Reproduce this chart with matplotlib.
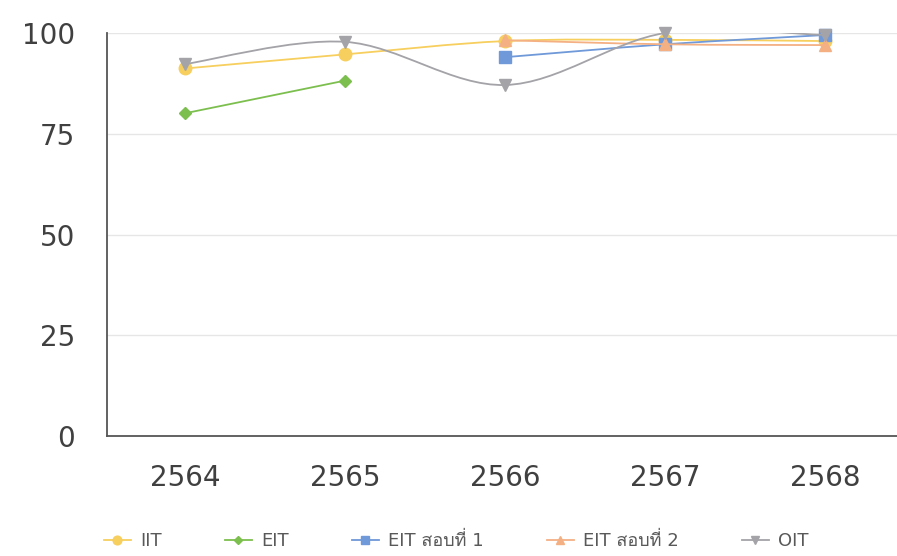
import numpy as np
import matplotlib
matplotlib.use('Agg')
import matplotlib.pyplot as plt
from matplotlib import font_manager
from matplotlib.ft2font import FT2Font
from matplotlib.path import Path
from matplotlib.patches import PathPatch
from matplotlib.lines import Line2D

# categories (Thai Buddhist years)
years = ['2564', '2565', '2566', '2567', '2568']

# series values, None = no data for that year
iit = [91.2, 94.7, 98.0, 98.3, 98.0]
eit = [80.1, 88.2, None, None, None]
eit_r1 = [None, None, 94.0, 97.2, 99.5]
eit_r2 = [None, None, 98.2, 97.2, 97.0]
oit = [92.3, 97.8, 87.1, 100.0, 99.5]

labels = ['IIT', 'EIT', 'EIT สอบที่ 1', 'EIT สอบที่ 2', 'OIT']
colors = ['#F7CF5E', '#7CBF4E', '#6F99D8', '#F4B083', '#A3A3A8']
markers = ['o', 'D', 's', '^', 'v']
msizes = [9, 6.5, 8, 8, 8]


def find_thai_family():
    # look for any installed font that has Thai glyphs
    for fe in font_manager.fontManager.ttflist:
        try:
            cmap = FT2Font(fe.fname).get_charmap()
        except Exception:
            continue
        if all(ord(c) in cmap for c in 'สอบที่'):
            return fe.name
    return None


thai = find_thai_family()
families = ['DejaVu Sans'] + ([thai] if thai else [])
plt.rcParams['font.family'] = families


def smooth_path(xs, ys):
    # bezier like a spreadsheet "smoothed line"
    pts = np.column_stack([xs, ys])
    verts = [pts[0]]
    codes = [Path.MOVETO]
    n = len(pts)
    for i in range(n - 1):
        p_prev = pts[i - 1] if i > 0 else pts[i]
        p_next2 = pts[i + 2] if i + 2 < n else pts[i + 1]
        c1 = pts[i] + (pts[i + 1] - p_prev) / 6.0
        c2 = pts[i + 1] - (p_next2 - pts[i]) / 6.0
        verts += [c1, c2, pts[i + 1]]
        codes += [Path.CURVE4] * 3
    return Path(verts, codes)


fig = plt.figure(figsize=(8.97, 5.56), dpi=100)
ax = fig.add_axes([107 / 897, 1 - 436 / 556, 1 - 107 / 897, (436 - 33) / 556])

x = np.arange(len(years))
series = [iit, eit, eit_r1, eit_r2, oit]
for k, vals in enumerate(series):
    xs = [xi for xi, v in zip(x, vals) if v is not None]
    ys = [v for v in vals if v is not None]
    patch = PathPatch(smooth_path(xs, ys), facecolor='none', edgecolor=colors[k],
                      lw=1.3, zorder=3 + k)
    ax.add_patch(patch)
    ax.plot(xs, ys, ls='none', marker=markers[k], ms=msizes[k], color=colors[k],
            mec=colors[k], zorder=3 + k, clip_on=False)

ax.set_xlim(-0.49, 4.45)
ax.set_ylim(0, 100)
ax.set_xticks(x)
ax.set_xticklabels(years)
ax.set_yticks([0, 25, 50, 75, 100])
ax.tick_params(axis='both', length=0, labelsize=20, colors='#404040')
ax.tick_params(axis='y', pad=23)
ax.tick_params(axis='x', pad=20)
ax.grid(axis='y', color='#E6E6E6', lw=1)
ax.set_axisbelow(True)
for s in ['top', 'right']:
    ax.spines[s].set_visible(False)
for s in ['left', 'bottom']:
    ax.spines[s].set_color('#555555')
    ax.spines[s].set_linewidth(1.3)

handles = [Line2D([], [], color=colors[k], marker=markers[k], ms=msizes[k] * 0.7, lw=1.3)
           for k in range(len(labels))]
fig.legend(handles, labels, loc='center', bbox_to_anchor=(456 / 897, 1 - 541 / 556),
           ncol=5, frameon=False, fontsize=13, labelcolor='#595959',
           handlelength=1.5, handletextpad=0.5, columnspacing=3.5)

fig.savefig('out.png', dpi=100)
